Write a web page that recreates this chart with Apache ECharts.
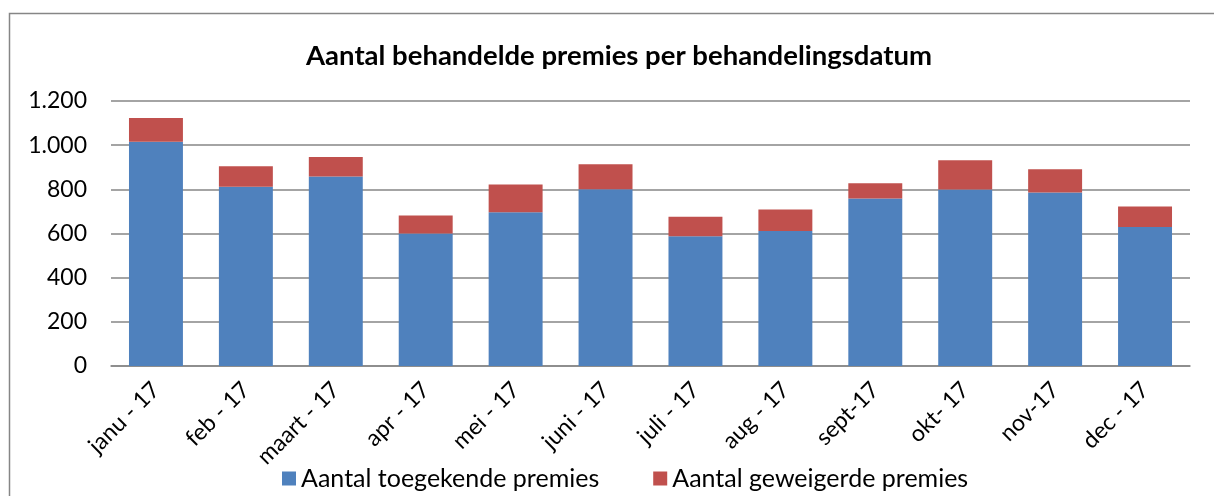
<!DOCTYPE html>
<html>
<head>
<meta charset="utf-8">
<script src="https://cdn.jsdelivr.net/npm/echarts@6/dist/echarts.min.js"></script>
<style>
  html, body { margin: 0; padding: 0; background: #fff; }
  #chart { width: 1214px; height: 496px; }
</style>
</head>
<body>
<div id="chart"></div>
<script>
// maanden
var months = ['janu - 17', 'feb - 17', 'maart - 17', 'apr - 17', 'mei - 17', 'juni - 17',
  'juli - 17', 'aug - 17', 'sept-17', 'okt- 17', 'nov-17', 'dec - 17'];
// toegekend (blauw)
var granted = [1015, 812, 858, 600, 696, 800, 587, 611, 758, 799, 786, 629];
// geweigerd (rood)
var refused = [108, 92, 88, 82, 126, 114, 89, 98, 70, 133, 105, 93];

var font = 'Lato, "Open Sans", sans-serif';

var chart = echarts.init(document.getElementById('chart'));
chart.setOption({
  animation: false,
  textStyle: { fontFamily: font },
  title: {
    text: 'Aantal behandelde premies per behandelingsdatum',
    left: 614, top: 37, textAlign: 'center',
    textStyle: { fontSize: 27.5, fontWeight: 'bold', color: '#000', fontFamily: font }
  },
  graphic: [{
    type: 'rect',
    shape: { x: 9.5, y: 13.5, width: 1220, height: 500 },
    style: { fill: 'none', stroke: '#868686', lineWidth: 1.5 },
    silent: true
  }],
  legend: {
    bottom: 0, left: 277,
    itemWidth: 14, itemHeight: 14, itemGap: 54,
    icon: 'rect',
    textStyle: { fontSize: 25, color: '#000', fontFamily: font },
    data: ['Aantal toegekende premies', 'Aantal geweigerde premies']
  },
  grid: { left: 111, right: 24, top: 101, bottom: 130 },
  xAxis: {
    type: 'category',
    data: months,
    axisLine: { lineStyle: { color: '#868686', width: 1.5 } },
    axisTick: { show: false },
    axisLabel: { rotate: 45, fontSize: 23, color: '#000', margin: 20, interval: 0 }
  },
  yAxis: {
    type: 'value',
    min: 0, max: 1200, interval: 200,
    axisLine: { show: false },
    axisTick: { show: false },
    splitLine: { lineStyle: { color: '#868686', width: 1.5 } },
    axisLabel: {
      fontSize: 23, color: '#000', margin: 24,
      formatter: function (v) { return v >= 1000 ? (v / 1000).toFixed(3) : String(v); }
    }
  },
  series: [
    {
      name: 'Aantal toegekende premies', type: 'bar', stack: 'tot',
      data: granted, barWidth: '60%',
      itemStyle: { color: '#4f81bd' }
    },
    {
      name: 'Aantal geweigerde premies', type: 'bar', stack: 'tot',
      data: refused, barWidth: '60%',
      itemStyle: { color: '#c0504d' }
    }
  ]
});
</script>
</body>
</html>
